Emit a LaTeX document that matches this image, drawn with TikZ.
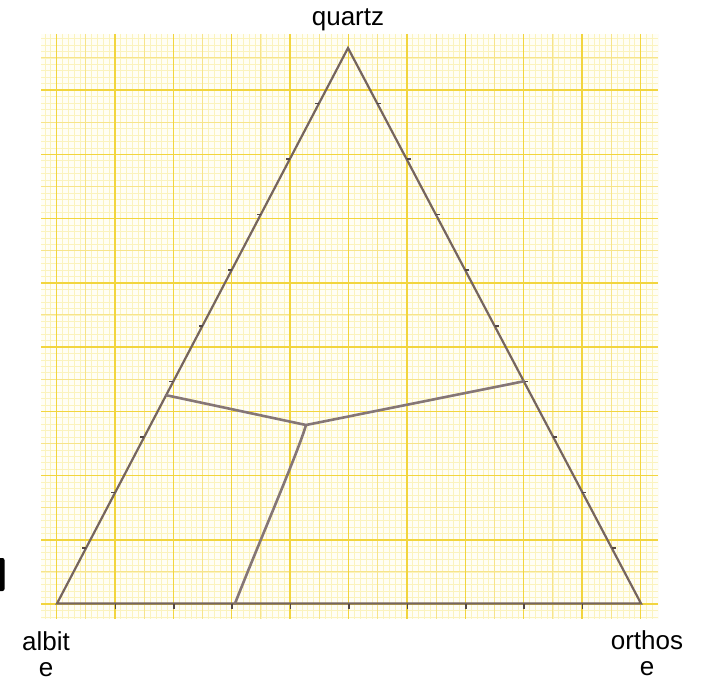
\documentclass[tikz,border=0pt]{standalone}
\usepackage{fontspec}
\setmainfont{Liberation Sans}
\usepackage{xcolor}
\usetikzlibrary{calc}
\definecolor{paper}{HTML}{FFFEF5}
\definecolor{gridfine}{HTML}{FBF3BE}
\definecolor{gridmid}{HTML}{F7E48A}
\definecolor{gridbold}{HTML}{F2D53E}
\definecolor{pencil}{HTML}{76655E}
\definecolor{tracer}{HTML}{857676}
\tikzset{
  finegrid/.style={draw=gridfine,line width=0.5pt},
  midgrid/.style={draw=gridmid,line width=0.9pt},
  boldgrid/.style={draw=gridbold,line width=1.5pt},
  edge/.style={draw=pencil,line width=2.2pt,line join=miter},
  tickmark/.style={draw=pencil!70!black,line width=1.6pt},
  boundary/.style={draw=tracer,line width=2.6pt,line cap=round},
  endmember/.style={font=\fontsize{26}{26}\selectfont,text=black,align=center,inner sep=0pt}
}

\begin{document}
\begin{tikzpicture}[x=1pt,y=-1pt]
  \useasboundingbox (0,0) rectangle (701,682);
  % graph paper
  \fill[paper] (41,34) rectangle (658,619);
  \begin{scope}
    \clip (41,34) rectangle (658,619);
    \foreach \k in {-2,...,103} \draw[finegrid] ({56.5+5.84*\k},34) -- ({56.5+5.84*\k},619);
    \foreach \k in {-2,...,88} \draw[finegrid] (41,{604-6.425*\k}) -- (658,{604-6.425*\k});
    \foreach \m in {0,...,9} \draw[midgrid] ({85.7+58.4*\m},34) -- ({85.7+58.4*\m},619);
    \foreach \m in {0,...,8} \draw[midgrid] (41,{571.875-64.25*\m}) -- (658,{571.875-64.25*\m});
    \foreach \m in {0,...,10} \draw[boldgrid] ({56.5+58.4*\m},34) -- ({56.5+58.4*\m},619);
    \foreach \m in {0,...,8} \draw[boldgrid] (41,{604-64.25*\m}) -- (658,{604-64.25*\m});
  \end{scope}

  % cut-off mark at the left edge
  \fill[black,rounded corners=2pt] (-6,558) rectangle (4.5,591);

  % triangle
  \coordinate (qz) at (348,48);
  \coordinate (ab) at (57,603.5);
  \coordinate (or) at (641,603.5);
  \draw[edge] (ab) -- (qz) -- (or) -- cycle;
  \foreach \t in {1,...,9} {
    \draw[tickmark] ($(ab)!\t/10!(or)$) -- ++(0,5);
    \draw[tickmark] ($(ab)!\t/10!(qz)$) -- ++(-4,0);
    \draw[tickmark] ($(or)!\t/10!(qz)$) -- ++(4,0);
  }

  % field boundaries
  \coordinate (jn) at (306,425);
  \coordinate (lp) at ($(ab)!0.375!(qz)$);
  \coordinate (rp) at ($(or)!0.4!(qz)$);
  \coordinate (bp) at (235,603.5);
  \draw[boundary] (lp) -- (jn) -- (rp);
  \draw[boundary] (jn) .. controls (297,455) and (262,535) .. (bp);

  % labels
  \node[endmember,anchor=base] (quartz) at (348,26) {quartz};
  \node[endmember,anchor=base] (albite) at (46,676.7) {albit\\e};
  \node[endmember,anchor=base] (orthose) at (647,675) {orthos\\e};
\end{tikzpicture}
\end{document}
